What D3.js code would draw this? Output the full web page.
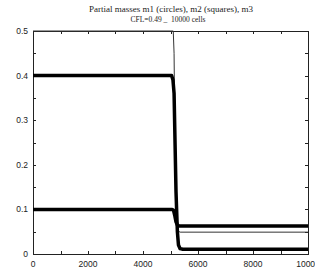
<!DOCTYPE html>
<html>
<head>
<meta charset="utf-8">
<script src="https://cdn.jsdelivr.net/npm/d3@7"></script>
<style>
  body { margin: 0; background: #fff; }
  svg { display: block; }
</style>
</head>
<body>
<div id="chart"></div>
<script>
// curves: [cell position, partial mass]
const m1 = [[0, 0.4], [5040, 0.4], [5090, 0.39], [5130, 0.36], [5200, 0.14], [5250, 0.05],
    [5290, 0.02], [5350, 0.012], [5450, 0.0105], [10000, 0.0105]];
const m2 = [[0, 0.1], [5060, 0.1], [5110, 0.098], [5160, 0.085], [5200, 0.072], [5250, 0.065],
    [5320, 0.0628], [10000, 0.0628]];
const m3 = [[0, 0.5], [5100, 0.5], [5130, 0.45], [5170, 0.2], [5210, 0.07], [5260, 0.052],
    [5350, 0.049], [10000, 0.049]];

const xTicks = [0, 2000, 4000, 6000, 8000, 10000];
const xMinor = d3.range(0, 10001, 1000);
const yTicks = [0, 0.1, 0.2, 0.3, 0.4, 0.5];
const yMinor = d3.range(0, 0.501, 0.05);

const title = "Partial masses m1 (circles), m2 (squares), m3";
const subtitle = "CFL=0.49 _  10000 cells";

const width = 315, height = 271;
const margin = { top: 31, right: 7, bottom: 17, left: 33 };

const svg = d3.select('#chart').append('svg')
    .attr('width', width)
    .attr('height', height);

const x = d3.scaleLinear()
    .domain([0, 10000])
    .range([margin.left, width - margin.right]);

const y = d3.scaleLinear()
    .domain([0, 0.5])
    .range([height - margin.bottom, margin.top]);

svg.append('defs').append('clipPath').attr('id', 'clip')
    .append('rect')
    .attr('x', margin.left).attr('y', margin.top - 1)
    .attr('width', x.range()[1] - margin.left)
    .attr('height', y.range()[0] - margin.top + 1);

// frame ticks, pointing inward on all four sides
const tickLen = 3;
const frame = svg.append('g').attr('stroke', '#222').attr('stroke-width', 1);

frame.selectAll('.xb').data(xMinor).join('line')
    .attr('x1', d => Math.round(x(d)) + 0.5).attr('x2', d => Math.round(x(d)) + 0.5)
    .attr('y1', y(0)).attr('y2', y(0) - tickLen);
frame.selectAll('.xt').data(xMinor).join('line')
    .attr('x1', d => Math.round(x(d)) + 0.5).attr('x2', d => Math.round(x(d)) + 0.5)
    .attr('y1', y(0.5)).attr('y2', y(0.5) + tickLen);
frame.selectAll('.yl').data(yMinor).join('line')
    .attr('y1', d => Math.round(y(d)) + 0.5).attr('y2', d => Math.round(y(d)) + 0.5)
    .attr('x1', x(0)).attr('x2', x(0) + tickLen);
frame.selectAll('.yr').data(yMinor).join('line')
    .attr('y1', d => Math.round(y(d)) + 0.5).attr('y2', d => Math.round(y(d)) + 0.5)
    .attr('x1', x(10000)).attr('x2', x(10000) - tickLen);

frame.append('rect')
    .attr('x', x(0) + 0.5).attr('y', y(0.5) + 0.5)
    .attr('width', x(10000) - x(0)).attr('height', y(0) - y(0.5))
    .attr('fill', 'none');

// tick labels
const labelFont = 'Liberation Sans, Arial, sans-serif';
svg.append('g').selectAll('text').data(xTicks).join('text')
    .attr('x', d => x(d)).attr('y', y(0) + 13)
    .attr('text-anchor', 'middle')
    .attr('font-family', labelFont).attr('font-size', 8.5)
    .attr('fill', '#222')
    .text(d => d);

svg.append('g').selectAll('text').data(yTicks).join('text')
    .attr('x', x(0) - 5).attr('y', d => y(d) + 3)
    .attr('text-anchor', 'end')
    .attr('font-family', labelFont).attr('font-size', 8.5)
    .attr('fill', '#222')
    .text(d => d);

// curves
const line = d3.line()
    .x(d => x(d[0]))
    .y(d => y(d[1]));

const plot = svg.append('g').attr('clip-path', 'url(#clip)');

plot.append('path')
    .datum(m3)
    .attr('fill', 'none')
    .attr('stroke', '#333')
    .attr('stroke-width', 1)
    .attr('d', line);

[m1, m2].forEach(s => {
    plot.append('path')
        .datum(s)
        .attr('fill', 'none')
        .attr('stroke', '#000')
        .attr('stroke-width', 3.5)
        .attr('stroke-linejoin', 'round')
        .attr('d', line);
});

// titles
svg.append('text')
    .attr('x', 171).attr('y', 12)
    .attr('text-anchor', 'middle')
    .attr('font-family', 'Liberation Serif, Times New Roman, serif')
    .attr('font-size', 9)
    .attr('fill', '#222')
    .text(title);

svg.append('text')
    .attr('x', 168).attr('y', 21.5)
    .attr('text-anchor', 'middle')
    .attr('font-family', 'Liberation Serif, Times New Roman, serif')
    .attr('font-size', 7.5)
    .attr('fill', '#222')
    .attr('xml:space', 'preserve')
    .style('white-space', 'pre')
    .text(subtitle);
</script>
</body>
</html>
